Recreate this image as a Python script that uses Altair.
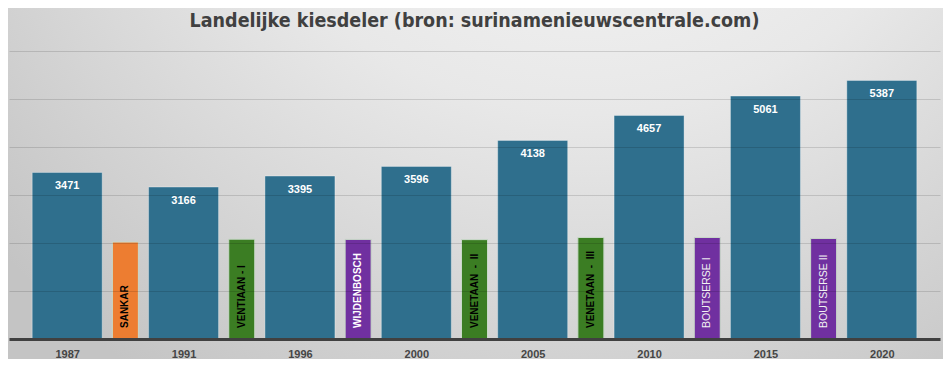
import altair as alt
import pandas as pd

# ---- data ----
years = ["1987", "1991", "1996", "2000", "2005", "2010", "2015", "2020"]
kiesdeler = [3471, 3166, 3395, 3596, 4138, 4657, 5061, 5387]

presidents = ["SANKAR", "VENTIAAN - I", "WIJDENBOSCH", "VENETAAN\u00a0\u00a0-\u00a0\u00a0II",
              "VENETAAN\u00a0\u00a0-\u00a0\u00a0III", "BOUTSERSE I", "BOUTSERSE II"]
pres_heights = [2020, 2080, 2075, 2070, 2115, 2115, 2095]
pres_colors = ["#ED7D31", "#3B7D23", "#7030A0", "#3B7D23", "#3B7D23", "#7030A0", "#7030A0"]
pres_text_colors = ["#000000", "#000000", "#FFFFFF", "#000000", "#000000", "#F2F2F2", "#F2F2F2"]
pres_bold = [True, True, True, True, True, False, False]

TITLE = "Landelijke kiesdeler (bron: surinamenieuwscentrale.com)"

W, H = 931, 288

main = pd.DataFrame({"pos": list(range(len(years))), "year": years, "value": kiesdeler})
pres = pd.DataFrame({
    "pos": [i + 0.5 for i in range(len(presidents))],
    "name": presidents, "value": pres_heights,
    "color": pres_colors, "tcolor": pres_text_colors, "bold": pres_bold,
})

xscale = alt.Scale(domain=[-0.5, len(years) - 0.5], nice=False, zero=False, padding=0)
yscale = alt.Scale(domain=[0, 6000], nice=False)

label_expr = "[" + ",".join(f"'{y}'" for y in years) + "][datum.value]"

x_axis = alt.Axis(values=list(range(len(years))), labelExpr=label_expr, title=None,
                  ticks=False, grid=False, domainColor="#404040", domainWidth=3,
                  labelFont="Liberation Sans", labelFontWeight="bold", labelFontSize=11,
                  labelColor="#454545", labelPadding=9, zindex=2)
y_axis = alt.Axis(values=[1000, 2000, 3000, 4000, 5000, 6000], labels=False, ticks=False,
                  domain=False, title=None, grid=True, gridColor="#000000",
                  gridOpacity=0.13, gridWidth=1, zindex=1)

bg = alt.Chart(alt.Data(values=[{"a": 1}])).mark_rect(
    fill=alt.Gradient(gradient="radial",
                      stops=[alt.GradientStop(color="#FCFCFC", offset=0),
                             alt.GradientStop(color="#E8E8E8", offset=0.5),
                             alt.GradientStop(color="#C4C4C4", offset=1)],
                      x1=0.62, y1=0.0, x2=0.62, y2=0.0, r1=0, r2=0.85)
).encode(x=alt.value(-1), x2=alt.value(W + 3), y=alt.value(-43), y2=alt.value(H + 20))

title = alt.Chart(alt.Data(values=[{"t": TITLE}])).mark_text(
    font="DejaVu Sans Condensed", fontWeight="bold", fontSize=19.5, color="#404040",
    align="center", baseline="middle"
).encode(text="t:N", x=alt.value(465.5), y=alt.value(-30))

bars = alt.Chart(main).mark_bar(size=70, color="#2F6F8D", stroke="#FFFFFF",
                                strokeOpacity=0.35, strokeWidth=1).encode(
    x=alt.X("pos:Q", scale=xscale, axis=x_axis),
    y=alt.Y("value:Q", scale=yscale, axis=y_axis),
)

bar_labels = alt.Chart(main).mark_text(font="Liberation Sans", fontWeight="bold", fontSize=11,
                                       color="#FFFFFF", baseline="top", dy=8).encode(
    x=alt.X("pos:Q", scale=xscale), y=alt.Y("value:Q", scale=yscale), text="value:Q")

pbars = alt.Chart(pres).mark_bar(size=26, stroke="#C8D8C8", strokeWidth=1).encode(
    x=alt.X("pos:Q", scale=xscale),
    y=alt.Y("value:Q", scale=yscale),
    fill=alt.Fill("color:N", scale=None),
)

plabels_bold = alt.Chart(pres).transform_filter("datum.bold").transform_calculate(zero="0").mark_text(
    font="Liberation Sans", fontWeight="bold", fontSize=10, angle=270,
    align="left", baseline="middle", dx=11).encode(
    x=alt.X("pos:Q", scale=xscale), y=alt.Y("zero:Q", scale=yscale),
    text="name:N", color=alt.Color("tcolor:N", scale=None))

plabels_norm = alt.Chart(pres).transform_filter("!datum.bold").transform_calculate(zero="0").mark_text(
    font="Liberation Sans", fontWeight="normal", fontSize=10.5, angle=270,
    align="left", baseline="middle", dx=11).encode(
    x=alt.X("pos:Q", scale=xscale), y=alt.Y("zero:Q", scale=yscale),
    text="name:N", color=alt.Color("tcolor:N", scale=None))

chart = alt.layer(bg, title, bars, bar_labels, pbars, plabels_bold, plabels_norm).properties(
    width=W, height=H,
    autosize=alt.AutoSizeParams(type="none"),
    padding={"left": 1, "top": 43, "right": 3, "bottom": 20},
).configure_view(stroke=None).configure(background="#FFFFFF")

chart.save("out.html", embed_options={"renderer": "svg", "actions": False})
